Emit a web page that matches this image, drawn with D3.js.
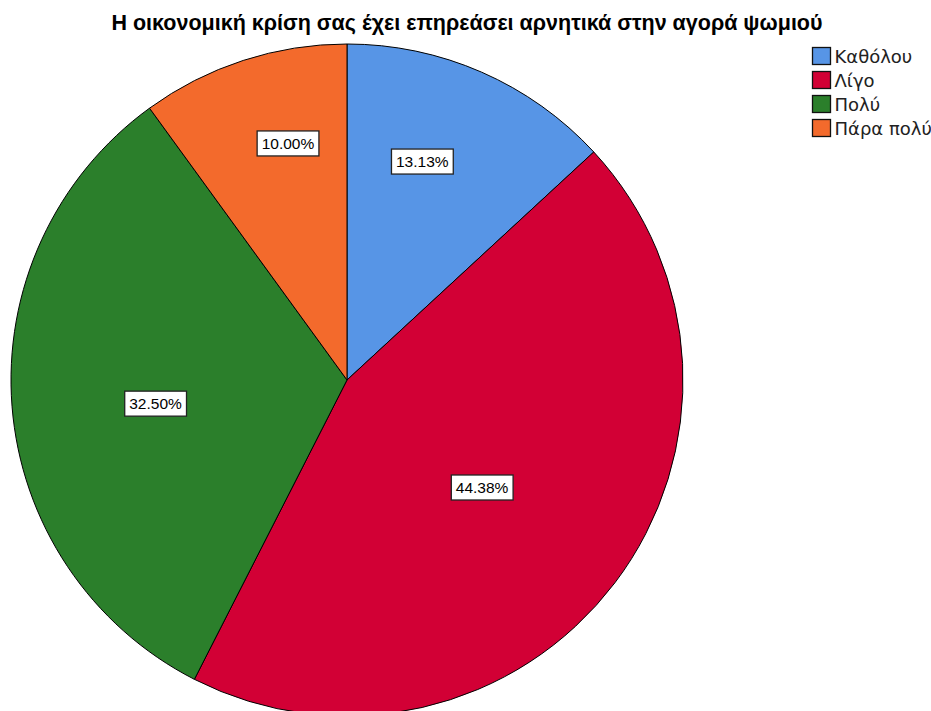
<!DOCTYPE html>
<html>
<head>
<meta charset="utf-8">
<script src="https://cdn.jsdelivr.net/npm/d3@7"></script>
<style>
  body { margin: 0; background: #fff; }
  text { font-family: "Liberation Sans", Arial, sans-serif; }
</style>
</head>
<body>
<div id="chart"></div>
<script>
var categories = ["Καθόλου", "Λίγο", "Πολύ", "Πάρα πολύ"];
var percents = [13.13, 44.38, 32.50, 10.00];
var colors = ["#5795e6", "#d20035", "#2b7f2b", "#f36a2c"];
var chartTitle = "Η οικονομική κρίση σας έχει επηρεάσει αρνητικά στην αγορά ψωμιού";

var width = 931;
var height = 711;
var cx = 347, cy = 380;
var radius = 336;
// small shifts of each label from the slice's area centroid (SPSS style placement)
var labelNudge = [[-12, -19], [9, 12], [-5, 9], [9, -27]];

var pieData = categories.map(function (c, i) {
  return { name: c, value: percents[i], color: colors[i], idx: i };
});

var pie = d3.pie().value(d => d.value).sort(null);
var arc = d3.arc().innerRadius(0).outerRadius(radius);

var svg = d3.select("#chart").append("svg")
  .attr("width", width)
  .attr("height", height);

svg.append("text")
  .attr("x", 467)
  .attr("y", 30)
  .attr("text-anchor", "middle")
  .style("font-size", "21.5px")
  .style("font-weight", "bold")
  .style("fill", "#000")
  .text(chartTitle);

var g = svg.append("g")
  .attr("transform", "translate(" + cx + "," + cy + ")");

var arcs = pie(pieData);

g.selectAll("path")
  .data(arcs)
  .enter()
  .append("path")
  .attr("d", arc)
  .attr("fill", d => d.data.color)
  .attr("stroke", "#000")
  .attr("stroke-width", 1);

// area centroid of a sector
function sectorCentroid(d) {
  var half = (d.endAngle - d.startAngle) / 2;
  var dist = 2 * radius * Math.sin(half) / (3 * half);
  var mid = (d.startAngle + d.endAngle) / 2;
  return [dist * Math.sin(mid), -dist * Math.cos(mid)];
}

var labels = g.selectAll(".lbl")
  .data(arcs)
  .enter()
  .append("g")
  .attr("class", "lbl")
  .attr("transform", function (d) {
    var c = sectorCentroid(d);
    var n = labelNudge[d.data.idx];
    return "translate(" + (c[0] + n[0]) + "," + (c[1] + n[1]) + ")";
  });

labels.append("text")
  .attr("text-anchor", "middle")
  .attr("dy", "0.36em")
  .style("font-size", "15.5px")
  .style("fill", "#000")
  .text(d => d.data.value.toFixed(2) + "%");

labels.each(function () {
  var grp = d3.select(this);
  var bb = grp.select("text").node().getBBox();
  grp.insert("rect", "text")
    .attr("x", bb.x - 4.5)
    .attr("y", -12.5)
    .attr("width", bb.width + 9)
    .attr("height", 25)
    .attr("fill", "#fff")
    .attr("stroke", "#222")
    .attr("stroke-width", 1.3);
});

// legend
var legend = svg.append("g")
  .attr("transform", "translate(812.5,47.5)");

var rows = legend.selectAll("g")
  .data(pieData)
  .enter()
  .append("g")
  .attr("transform", (d, i) => "translate(0," + (i * 24) + ")");

rows.append("rect")
  .attr("width", 18)
  .attr("height", 17)
  .attr("fill", d => d.color)
  .attr("stroke", "#111")
  .attr("stroke-width", 1.3);

rows.append("text")
  .attr("x", 22)
  .attr("y", 9)
  .attr("dy", "0.36em")
  .style("font-family", "'DejaVu Sans', sans-serif")
  .style("font-size", "18px")
  .style("fill", "#222")
  .text(d => d.name);
</script>
</body>
</html>
